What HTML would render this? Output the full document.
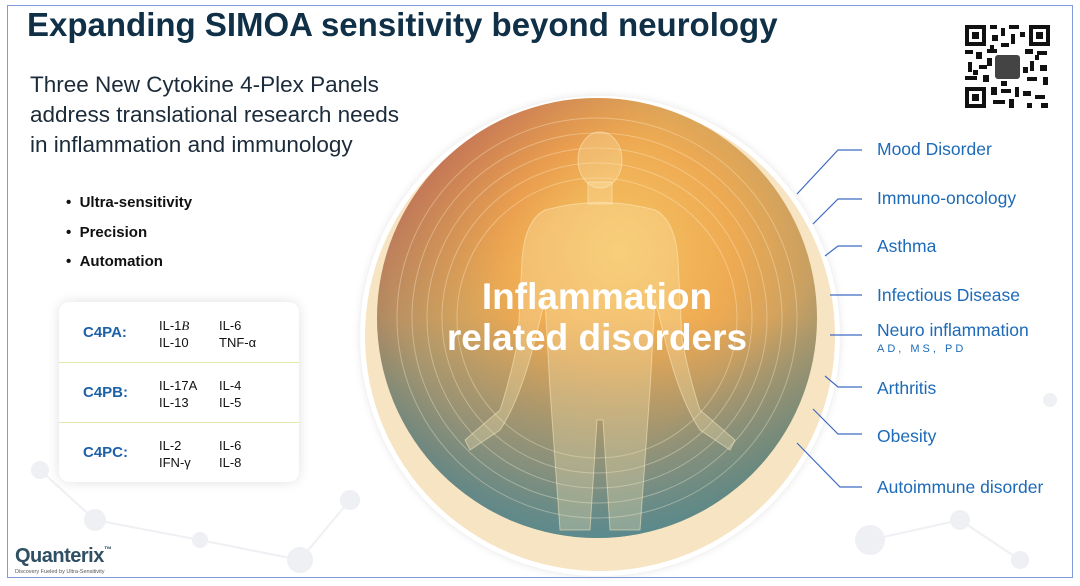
<!DOCTYPE html>
<html><head><meta charset="utf-8"><style>
body{margin:0;width:1080px;height:586px;background:#fff;position:relative;overflow:hidden;font-family:"Liberation Sans",Arial,sans-serif}
.frame{position:absolute;left:7px;top:5px;width:1066px;height:573px;border:1px solid #7f9bd8;box-sizing:border-box}
.abs{position:absolute}
h1{position:absolute;left:27px;top:6px;margin:0;font-size:33px;font-weight:bold;color:#0f3047;white-space:nowrap}
.sub{left:30px;top:70px;font-size:22.5px;line-height:30px;color:#1c2b3a}
.bul{left:66px;top:188px;font-size:15px;font-weight:bold;color:#111;line-height:29.5px}
.card{left:59px;top:302px;width:240px;height:180px;background:#fff;border-radius:10px;box-shadow:0 0 12px rgba(0,0,0,.12)}
.row{position:absolute;left:0;width:240px;height:60px;font-size:13px;color:#111}
.row b{position:absolute;left:24px;top:22px;color:#1d62a8;font-size:15px}
.row span{position:absolute;top:15px;line-height:17px}
.lab{position:absolute;left:877px;font-size:17.5px;color:#1d6ab8;white-space:nowrap}
</style></head><body>
<svg class="abs" style="left:0;top:0" width="1080" height="586">
<defs>
<radialGradient id="g1" cx="0.55" cy="0.35" r="0.75">
<stop offset="0" stop-color="#f6c463"/><stop offset="0.35" stop-color="#eeaa52"/><stop offset="0.7" stop-color="#b49a6a"/><stop offset="1" stop-color="#5c7f7c"/></radialGradient>
<linearGradient id="g2" x1="0" y1="0" x2="1" y2="1">
<stop offset="0" stop-color="#b52a50" stop-opacity=".8"/><stop offset="0.35" stop-color="#e07a3a" stop-opacity="0"/><stop offset="0.7" stop-color="#3d7e9a" stop-opacity="0"/><stop offset="1" stop-color="#6a8a3a" stop-opacity=".6"/></linearGradient>
<linearGradient id="g3" x1="0" y1="0" x2="0" y2="1"><stop offset="0.5" stop-color="#2c6a94" stop-opacity="0"/><stop offset="1" stop-color="#3f8aa0" stop-opacity=".55"/></linearGradient>
</defs>
<g fill="#eef0f3" stroke="#eef0f3" stroke-width="2">
<circle cx="40" cy="470" r="8"/><circle cx="95" cy="520" r="10"/><circle cx="200" cy="540" r="7"/><circle cx="300" cy="560" r="12"/><circle cx="350" cy="500" r="9"/><circle cx="870" cy="540" r="14"/><circle cx="960" cy="520" r="9"/><circle cx="1020" cy="560" r="8"/><circle cx="1050" cy="400" r="6"/>
<line x1="40" y1="470" x2="95" y2="520"/><line x1="95" y1="520" x2="200" y2="540"/><line x1="200" y1="540" x2="300" y2="560"/><line x1="300" y1="560" x2="350" y2="500"/><line x1="870" y1="540" x2="960" y2="520"/><line x1="960" y1="520" x2="1020" y2="560"/>
</g>
<circle cx="600" cy="336" r="240" fill="#fff" style="filter:drop-shadow(0 0 4px rgba(0,0,0,.1))"/>
<circle cx="600" cy="336" r="235" fill="#f6e4c2"/>
<circle cx="597" cy="318" r="220" fill="url(#g1)"/>
<circle cx="597" cy="318" r="220" fill="url(#g2)"/>
<circle cx="597" cy="318" r="220" fill="url(#g3)"/>
<g fill="none" stroke="#fff3d6" stroke-opacity=".35" stroke-width="1">
<circle cx="597" cy="318" r="200"/><circle cx="597" cy="318" r="185"/><circle cx="597" cy="318" r="170"/><circle cx="597" cy="318" r="155"/><circle cx="597" cy="318" r="140"/></g>
<g fill="#fde7b3" fill-opacity=".3" stroke="#fff0c8" stroke-opacity=".5">
<ellipse cx="600" cy="160" rx="22" ry="28"/>
<rect x="588" y="182" width="24" height="22"/>
<path d="M545 210 Q600 195 655 210 Q675 220 678 260 L682 340 Q690 380 700 410 L735 440 L730 450 L700 430 Q680 400 665 340 L655 300 L650 390 L640 530 L610 530 L603 420 L597 420 L590 530 L560 530 L550 390 L545 300 L535 340 Q520 400 500 430 L470 450 L465 440 L500 410 Q510 380 518 340 L522 260 Q525 220 545 210Z"/>
</g>
<g stroke="#3f6bc4" stroke-width="1.2" fill="none">
<path d="M797 194L838 150H862"/><path d="M813 224L838 199H862"/><path d="M825 256L838 246H862"/><path d="M830 295H862"/><path d="M830 335H862"/><path d="M825 376L838 387H862"/><path d="M813 409L838 434H862"/><path d="M797 443L840 487H862"/>
</g>
<g transform="translate(965,25)">
<rect width="85" height="83" fill="#fff"/>
<g fill="#111">
<path d="M0 0h21v21h-21zM4 4v13h13v-13zM7 7h7v7h-7z" fill-rule="evenodd"/>
<path d="M64 0h21v21h-21zM68 4v13h13v-13zM71 7h7v7h-7z" fill-rule="evenodd"/>
<path d="M0 62h21v21h-21zM4 66v13h13v-13zM7 69h7v7h-7z" fill-rule="evenodd"/>
<rect x="25" y="0" width="7" height="4"/><rect x="36" y="3" width="4" height="8"/><rect x="44" y="0" width="10" height="4"/><rect x="27" y="10" width="6" height="6"/><rect x="46" y="9" width="4" height="10"/><rect x="55" y="7" width="5" height="5"/><rect x="36" y="18" width="8" height="4"/><rect x="25" y="20" width="4" height="5"/>
<rect x="0" y="25" width="8" height="4"/><rect x="11" y="27" width="6" height="7"/><rect x="22" y="24" width="10" height="4"/><rect x="3" y="37" width="4" height="10"/><rect x="14" y="40" width="8" height="4"/><rect x="0" y="51" width="12" height="4"/><rect x="18" y="50" width="6" height="7"/><rect x="8" y="45" width="5" height="5"/><rect x="22" y="33" width="5" height="8"/>
<rect x="60" y="24" width="8" height="5"/><rect x="72" y="26" width="10" height="4"/><rect x="65" y="36" width="4" height="10"/><rect x="75" y="40" width="7" height="6"/><rect x="62" y="52" width="10" height="4"/><rect x="78" y="52" width="5" height="8"/><rect x="58" y="42" width="5" height="6"/><rect x="70" y="30" width="4" height="5"/>
<rect x="26" y="62" width="6" height="8"/><rect x="36" y="64" width="10" height="4"/><rect x="50" y="62" width="4" height="10"/><rect x="28" y="75" width="12" height="4"/><rect x="58" y="66" width="8" height="5"/><rect x="70" y="70" width="10" height="4"/><rect x="62" y="78" width="5" height="5"/><rect x="76" y="78" width="7" height="5"/><rect x="44" y="74" width="5" height="9"/><rect x="36" y="56" width="6" height="5"/>
<rect x="30" y="30" width="25" height="24" rx="3" fill="#444"/>
</g></g>
</svg>
<div class="frame"></div>
<h1>Expanding SIMOA sensitivity beyond neurology</h1>
<div class="abs sub">Three New Cytokine 4-Plex Panels<br>address translational research needs<br>in inflammation and immunology</div>
<div class="abs bul">•&nbsp;&nbsp;Ultra-sensitivity<br>•&nbsp;&nbsp;Precision<br>•&nbsp;&nbsp;Automation</div>
<div class="abs card">
<div class="row" style="top:0;border-bottom:1px solid #e3e8a8"><b>C4PA:</b><span style="left:100px">IL-1<i style="font-family:'Liberation Serif'">B</i><br>IL-10</span><span style="left:160px">IL-6<br>TNF-α</span></div>
<div class="row" style="top:60px;border-bottom:1px solid #e3e8a8"><b>C4PB:</b><span style="left:100px">IL-17A<br>IL-13</span><span style="left:160px">IL-4<br>IL-5</span></div>
<div class="row" style="top:120px"><b>C4PC:</b><span style="left:100px">IL-2<br>IFN-γ</span><span style="left:160px">IL-6<br>IL-8</span></div>
</div>
<div class="abs" style="left:360px;top:276px;width:474px;text-align:center;color:#fff;font-weight:bold;font-size:37px;line-height:41px">Inflammation<br>related disorders</div>
<div class="lab" style="top:139px">Mood Disorder</div>
<div class="lab" style="top:188px">Immuno-oncology</div>
<div class="lab" style="top:236px">Asthma</div>
<div class="lab" style="top:285px">Infectious Disease</div>
<div class="lab" style="top:320px">Neuro inflammation</div>
<div class="lab" style="top:343px;font-size:11px;letter-spacing:3px">AD, MS, PD</div>
<div class="lab" style="top:378px">Arthritis</div>
<div class="lab" style="top:426px">Obesity</div>
<div class="lab" style="top:477px">Autoimmune disorder</div>
<div class="abs" style="left:15px;top:545px;font-size:20px;font-weight:bold;color:#2f4f63;letter-spacing:-0.5px">Quanterix<span style="font-size:8px;vertical-align:top">™</span></div>
<div class="abs" style="left:15px;top:569px;font-size:5.5px;color:#555">Discovery Fueled by Ultra-Sensitivity</div>
</body></html>
